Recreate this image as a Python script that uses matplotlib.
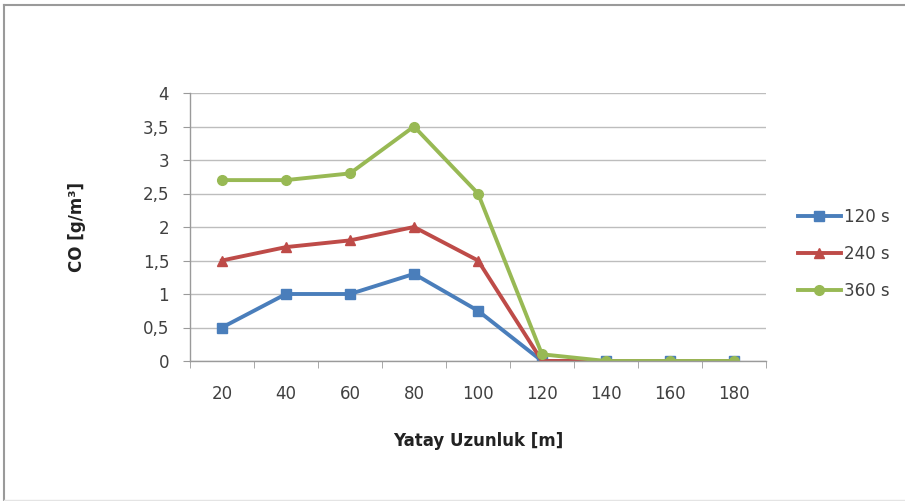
import numpy as np
import matplotlib as mpl
mpl.use('agg')
import matplotlib.pyplot as plt
from matplotlib.lines import Line2D
from matplotlib.ticker import FuncFormatter, FixedLocator

# data
distances = ['20', '40', '60', '80', '100', '120', '140', '160', '180']
co_120s = [0.5, 1.0, 1.0, 1.3, 0.75, 0.0, 0.0, 0.0, 0.0]
co_240s = [1.5, 1.7, 1.8, 2.0, 1.5, 0.0, 0.0, 0.0, 0.0]
co_360s = [2.7, 2.7, 2.8, 3.5, 2.5, 0.1, 0.0, 0.0, 0.0]
series_names = ['120 s', '240 s', '360 s']

plt.rcParams['font.family'] = ['DejaVu Sans']

fig = plt.figure(figsize=(9.05, 5.01), dpi=100)
ax = fig.add_axes([190 / 905, 1 - 361 / 501, 576 / 905, 268 / 501])

x = np.arange(len(distances))
ax.plot(x, co_120s, color='#4A7EBB', lw=2.8, marker='s', ms=7, label=series_names[0])
ax.plot(x, co_240s, color='#BE4B48', lw=2.8, marker='^', ms=7, label=series_names[1])
ax.plot(x, co_360s, color='#98B954', lw=2.8, marker='o', ms=7, label=series_names[2])

ax.set_xlim(-0.5, len(distances) - 0.5)
ax.set_ylim(0, 4)
ax.set_yticks(np.arange(0, 4.01, 0.5))
ax.yaxis.set_major_formatter(FuncFormatter(lambda v, p: ('%g' % v).replace('.', ',')))
ax.set_xticks(x)
ax.set_xticklabels(distances)
ax.xaxis.set_minor_locator(FixedLocator(np.arange(-0.5, len(distances), 1)))
ax.tick_params(axis='x', which='major', length=0, pad=17, labelsize=12, labelcolor='#404040')
ax.tick_params(axis='x', which='minor', length=5, color='#9A9A9A')
ax.tick_params(axis='y', length=5, color='#9A9A9A', pad=10, labelsize=12, labelcolor='#404040')

ax.grid(axis='y', color='#BDBDBD', lw=1)
ax.set_axisbelow(True)
for s in ['top', 'right']:
    ax.spines[s].set_visible(False)
for s in ['left', 'bottom']:
    ax.spines[s].set_color('#9A9A9A')
    ax.spines[s].set_linewidth(1)

ax.set_ylabel('CO [g/m³]', fontsize=12, fontweight='bold', color='#222222', labelpad=41)
ax.set_xlabel('Yatay Uzunluk [m]', fontsize=12, fontweight='bold', color='#222222', labelpad=21)

leg = ax.legend(loc='center left', bbox_to_anchor=(1.029, 0.40), frameon=False,
                fontsize=12, labelspacing=1.15, handlelength=2.6, handletextpad=0.2)
for t in leg.get_texts():
    t.set_color('#404040')

# outer frame of the chart area
fig.add_artist(Line2D([4 / 905, 1], [1 - 5 / 501] * 2, color='#9A9A9A', lw=1.5))
fig.add_artist(Line2D([4 / 905] * 2, [0, 1 - 5 / 501], color='#9A9A9A', lw=1.5))
fig.add_artist(Line2D([4 / 905, 1], [1 / 501] * 2, color='#E4E4E4', lw=1))

plt.savefig('out.png', dpi=100)
